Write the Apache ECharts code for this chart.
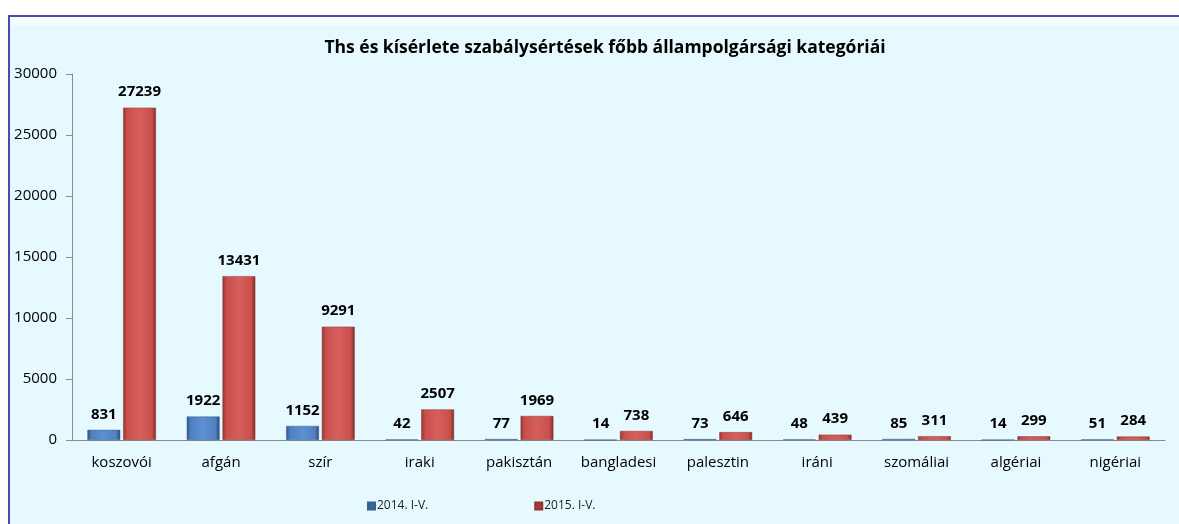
<!DOCTYPE html>
<html><head><meta charset="utf-8">
<script src="https://cdn.jsdelivr.net/npm/echarts@6/dist/echarts.min.js"></script>
<style>
html,body{margin:0;padding:0;background:#fff;width:1179px;height:524px;overflow:hidden;}
#frame{position:absolute;left:8px;top:15px;width:1171px;height:509px;box-sizing:border-box;border-left:2px solid #4a4aa8;border-top:2px solid #4a4aa8;background:linear-gradient(#f6fdff 0px,#f0fcff 8px,#e6f9fe 10px,#e6f9fe 100%);}
#chart{position:absolute;left:0;top:0;width:1179px;height:524px;}
</style></head>
<body>
<div id="frame"></div>
<div id="chart"></div>
<script>
const categories = ['koszovói','afgán','szír','iraki','pakisztán','bangladesi','palesztin','iráni','szomáliai','algériai','nigériai'];
const series2014 = [831,1922,1152,42,77,14,73,48,85,14,51];
const series2015 = [27239,13431,9291,2507,1969,738,646,439,311,299,284];
const seriesNames = ['2014. I-V.','2015. I-V.'];
const yTicks = {min:0,max:30000,interval:5000};
const titleText = 'Ths és kísérlete szabálysértések főbb állampolgársági kategóriái';

const font = '"Open Sans", Lato, sans-serif';
function grad(c0,c1,c2,c3){
  return {type:'linear',x:0,y:0,x2:1,y2:0,colorStops:[
    {offset:0,color:c0},{offset:0.12,color:c1},{offset:0.5,color:c2},{offset:0.88,color:c1},{offset:1,color:c3}]};
}
const chart = echarts.init(document.getElementById('chart'));
chart.setOption({
  backgroundColor:'transparent',
  animation:false,
  title:{text:titleText,left:600,textAlign:'center',top:34,textStyle:{fontFamily:font,fontWeight:'bold',fontSize:17.5,color:'#000'}},
  legend:{left:362,top:495,itemGap:106,itemWidth:7,itemHeight:7,icon:'rect',
    data:[{name:seriesNames[0],itemStyle:{color:'#3b64a0'}},{name:seriesNames[1],itemStyle:{color:'#a23c3a'}}],
    textStyle:{fontFamily:font,fontSize:12,color:'#222',padding:[0,0,0,-3]}},
  grid:{left:72,right:14,top:74,bottom:84},
  xAxis:{type:'category',data:categories,
    axisLine:{lineStyle:{color:'#8c8c8c',width:1}},
    axisTick:{show:false},
    axisLabel:{fontFamily:font,fontSize:15,color:'#000',margin:15}},
  yAxis:{type:'value',min:yTicks.min,max:yTicks.max,interval:yTicks.interval,
    axisLine:{show:true,lineStyle:{color:'#8c8c8c'}},
    axisTick:{show:true,inside:false,length:6,lineStyle:{color:'#8c8c8c'}},
    splitLine:{show:false},
    axisLabel:{fontFamily:font,fontSize:15,color:'#000',margin:15,formatter:v=>String(v)}},
  series:[
    {name:seriesNames[0],type:'bar',data:series2014,barWidth:'33%',barGap:'9%',
      itemStyle:{color:grad('#2f5587','#4f80c0','#5d90d2','#26466f'),borderColor:'#3a5f8f',borderWidth:0.5},
      label:{show:true,position:'top',distance:8,fontFamily:font,fontWeight:'bold',fontSize:15,color:'#000'}},
    {name:seriesNames[1],type:'bar',data:series2015,barWidth:'33%',barGap:'9%',
      itemStyle:{color:grad('#8e3533','#c94f4c','#d65f5c','#7a2b29'),borderColor:'#8e3533',borderWidth:0.5},
      label:{show:true,position:'top',distance:8,fontFamily:font,fontWeight:'bold',fontSize:15,color:'#000'}}
  ]
});
</script>
</body></html>
